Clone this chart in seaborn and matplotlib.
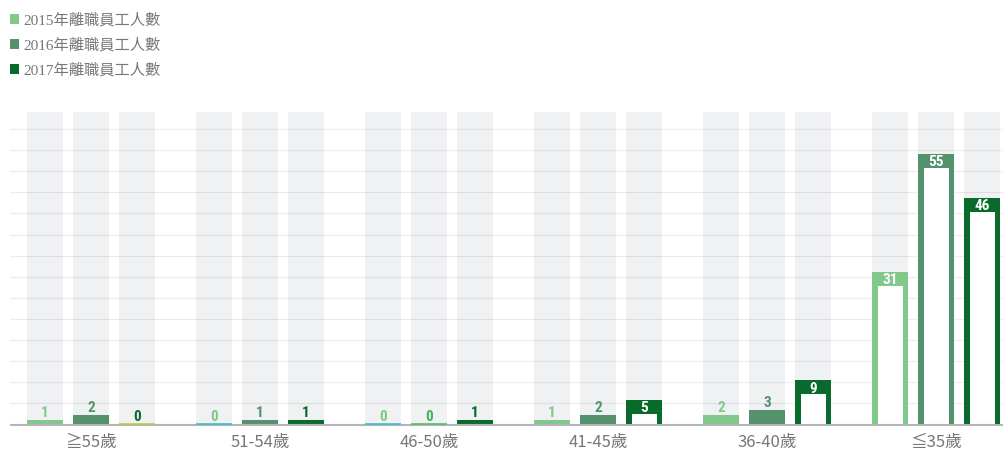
import numpy as np
import pandas as pd
import matplotlib
matplotlib.use("Agg")
import matplotlib.pyplot as plt
from matplotlib import font_manager
from matplotlib.patches import Rectangle
from matplotlib.transforms import blended_transform_factory
import seaborn as sns

# ---- data -------------------------------------------------------------
age_groups = ["≧55歲", "51-54歲", "46-50歲", "41-45歲", "36-40歲", "≦35歲"]
series_names = ["2015年離職員工人數", "2016年離職員工人數", "2017年離職員工人數"]
leavers_2015 = [1, 0, 0, 1, 2, 31]
leavers_2016 = [2, 1, 0, 2, 3, 55]
leavers_2017 = [0, 1, 1, 5, 9, 46]

# ---- styling ----------------------------------------------------------
series_colors = ["#80c98b", "#54916d", "#086b2c"]
# stroke / label colours used for zero-count bars
zero_styles = {
    ("≧55歲", 2): ("#b8cc3a", "#086b2c"),
    ("51-54歲", 0): ("#31bcc4", "#80c98b"),
    ("46-50歲", 0): ("#31bcc4", "#80c98b"),
    ("46-50歲", 1): ("#4cbb5c", "#45b553"),
}
y_top = 63.45
grid_values = np.linspace(0, 60, 15)[1:]
hollow_from = 5          # bars at or above this value are drawn as outlined frames
band_px, side_px = 14, 5.5


def narrow_label_font():
    """Pick the narrowest bold face available for the value labels."""
    fonts = font_manager.fontManager.ttflist
    names = {f.name for f in fonts}
    for fam in ("Liberation Sans Narrow", "Roboto Condensed", "Open Sans Condensed"):
        if fam in names:
            return {"family": [fam, "DejaVu Sans"], "fontstretch": "normal"}
    if any(f.name == "DejaVu Sans" and f.stretch == "condensed" for f in fonts):
        return {"family": ["DejaVu Sans"], "fontstretch": "condensed"}
    return {"family": ["Roboto", "DejaVu Sans"], "fontstretch": "normal"}


df = pd.DataFrame({
    "group": age_groups * 3,
    "series": np.repeat(series_names, len(age_groups)),
    "value": leavers_2015 + leavers_2016 + leavers_2017,
})

sns.set_theme(style="white")
plt.rcParams["font.family"] = ["Noto Sans CJK TC", "DejaVu Sans"]

fig = plt.figure(figsize=(10.04, 4.5), dpi=100)
ax = fig.add_axes([10 / 1004, 23.5 / 450, 994 / 1004, (426.5 - 112) / 450])

sns.barplot(data=df, x="group", y="value", hue="series",
            order=age_groups, hue_order=series_names,
            palette=series_colors, saturation=1,
            width=0.817, gap=0.217, errorbar=None,
            ax=ax, zorder=3, linewidth=0)

ax.set_xlim(-0.479, 5.402)
ax.set_ylim(-0.41, y_top)
for s in ax.spines.values():
    s.set_visible(False)
ax.set_yticks([])
ax.set_xlabel("")
ax.set_ylabel("")
ax.tick_params(axis="x", length=0, pad=5.5, labelsize=12, labelcolor="#777777")
for t in ax.get_xticklabels():
    t.set_fontweight("medium")

handles, labels = ax.get_legend_handles_labels()
ax.get_legend().remove()

to_px = ax.transData
ppu = to_px.transform((0, 1))[1] - to_px.transform((0, 0))[1]
ppx = to_px.transform((1, 0))[0] - to_px.transform((0, 0))[0]
band_tf = blended_transform_factory(ax.transData, ax.transAxes)
y0_axes = ax.transAxes.inverted().transform(to_px.transform((0, 0)))[1]

for gy in grid_values:
    ax.axhline(gy, color=(0, 0, 0, 0.075), lw=0.9, zorder=2)
ax.axhline(-0.2, color="#b5b5b9", lw=1.5, zorder=4)

label_kw = dict(ha="center", va="baseline", fontsize=11, fontweight="bold",
                textcoords="offset points", **narrow_label_font())
for si, container in enumerate(ax.containers):
    for gi, patch in enumerate(container.patches):
        x0, w, h = patch.get_x(), patch.get_width(), patch.get_height()
        cx = x0 + w / 2
        ax.add_patch(Rectangle((x0, y0_axes), w, 1 - y0_axes, transform=band_tf,
                               facecolor="#f0f1f3", lw=0, zorder=1))
        key = (age_groups[gi], si)
        if h == 0:
            line_c, text_c = zero_styles.get(key, (series_colors[si], series_colors[si]))
            ax.hlines(0.16, x0, x0 + w, color=line_c, lw=1.1, zorder=5)
            ax.annotate("0", (cx, 0), xytext=(0, 2.6), color=text_c, **label_kw)
        elif h >= hollow_from:
            ax.add_patch(Rectangle((x0 + side_px / ppx, 0), w - 2 * side_px / ppx,
                                   h - band_px / ppu, facecolor="white", lw=0, zorder=3.5))
            ax.annotate(f"{h:g}", (cx, h), xytext=(0, -12.5 * 0.72), color="white",
                        zorder=6, **label_kw)
        else:
            ax.annotate(f"{h:g}", (cx, h), xytext=(0, 2.2), color=series_colors[si],
                        **label_kw)

fig.legend(handles, labels, loc="upper left", bbox_to_anchor=(-4 / 1004, 1 + 1 / 450),
           frameon=False, handlelength=0.6, handleheight=0.6, handletextpad=0.3,
           labelspacing=0.7, borderpad=0.4, labelcolor="#777777",
           prop={"family": ["Liberation Serif", "Noto Sans CJK TC"], "size": 11})

fig.savefig("out.png", dpi=100)
